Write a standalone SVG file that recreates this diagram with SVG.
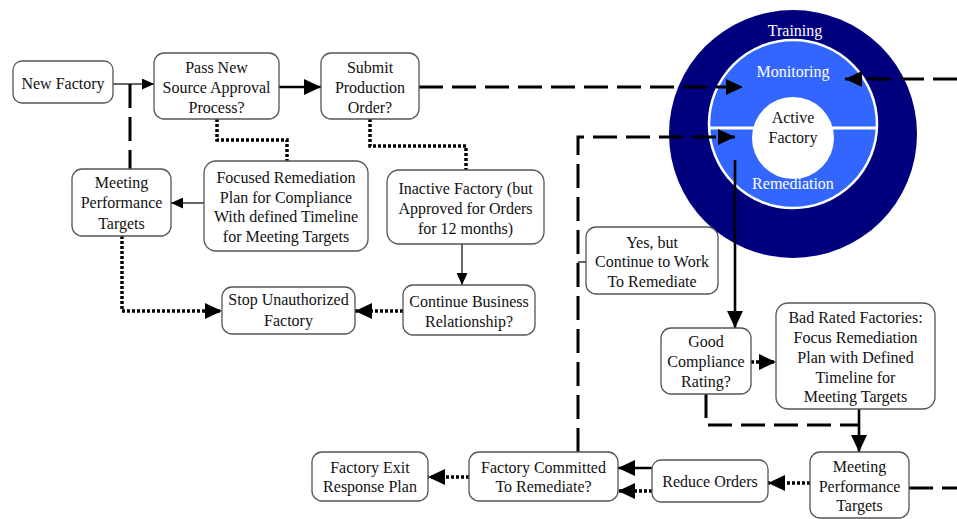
<svg xmlns="http://www.w3.org/2000/svg" width="957" height="519" viewBox="0 0 957 519">
<style>
.box{fill:#fff;stroke:#555;stroke-width:1.3}
.t{font-family:"Liberation Serif","Times New Roman",serif;font-size:16px;fill:#111;text-anchor:middle}
.w{fill:#fff}
.thin{fill:none;stroke:#333;stroke-width:1.5}
.thick{fill:none;stroke:#000;stroke-width:2.6}
.dash{fill:none;stroke:#000;stroke-width:3;stroke-dasharray:24 9}
.dot{fill:none;stroke:#000;stroke-width:3.5;stroke-dasharray:3 2}
</style>
<defs>
<marker id="ah" markerUnits="userSpaceOnUse" markerWidth="17" markerHeight="16" refX="17" refY="8" orient="auto"><path d="M0,0 L17,8 L0,16 z" fill="#000"/></marker>
<marker id="as" markerUnits="userSpaceOnUse" markerWidth="12" markerHeight="11" refX="12" refY="5.5" orient="auto"><path d="M0,0 L12,5.5 L0,11 z" fill="#000"/></marker>
</defs>

<g id="circle">
<circle cx="793" cy="134" r="124" fill="#00007f"/>
<circle cx="793" cy="124" r="84" fill="#3366ff" stroke="#fff" stroke-width="2.5"/>
<line x1="709" y1="128" x2="877" y2="128" stroke="#fff" stroke-width="3"/>
<circle cx="793" cy="138" r="41" fill="#fff"/>
<text class="t w" x="795" y="36" font-size="15">Training</text>
<text class="t w" x="793" y="77">Monitoring</text>
<text class="t" x="793" y="123">Active</text>
<text class="t" x="793" y="143">Factory</text>
<text class="t w" x="793" y="189">Remediation</text>
</g>

<g id="connectors">
<path class="thin" d="M113,84 H154" marker-end="url(#as)"/>
<path class="dash" d="M130,84 V169"/>
<path class="thick" stroke-width="3" d="M279,87 H321" marker-end="url(#ah)"/>
<path class="dash" d="M419,87 H743" marker-end="url(#ah)"/>
<path class="dash" d="M957,79 H845" marker-end="url(#ah)"/>
<path class="dot" d="M217,119 V140 H287 V161"/>
<path class="dot" d="M370,119 V146 H466 V170"/>
<path class="thin" d="M204,203 H171" marker-end="url(#as)"/>
<path class="dot" d="M122,236 V311 H222" marker-end="url(#ah)"/>
<path class="thin" d="M462,244 V285" marker-end="url(#as)"/>
<path class="dot" d="M403,311 H355" marker-end="url(#ah)"/>
<path class="dash" d="M578,452 V137 H735" marker-end="url(#ah)"/>
<path class="thin" stroke="#000" d="M578,262 H586"/>
<path class="thick" d="M735,160 V328" marker-end="url(#ah)"/>
<path class="dot" d="M751,362 H776" marker-end="url(#ah)"/>
<path class="dash" d="M706,394 V425 H858"/>
<path class="thick" d="M859,409 V452" marker-end="url(#ah)"/>
<path class="dot" d="M810,483 H768" marker-end="url(#ah)"/>
<path class="dash" d="M909,488 H957"/>
<path class="thick" d="M652,468 H618" marker-end="url(#ah)"/>
<path class="dot" d="M652,491 H618" marker-end="url(#ah)"/>
<path class="dot" d="M469,477 H428" marker-end="url(#ah)"/>
</g>

<g id="n-new"><rect class="box" x="13" y="61" width="100" height="42" rx="9"/><text class="t" x="63" y="89">New Factory</text></g>
<g id="n-pass"><rect class="box" x="154" y="53" width="125" height="66" rx="10"/><text class="t" x="216.5" y="73">Pass New</text><text class="t" x="216.5" y="93">Source Approval</text><text class="t" x="216.5" y="113">Process?</text></g>
<g id="n-submit"><rect class="box" x="321" y="53" width="98" height="66" rx="10"/><text class="t" x="370" y="73">Submit</text><text class="t" x="370" y="93">Production</text><text class="t" x="370" y="113">Order?</text></g>
<g id="n-mpt1"><rect class="box" x="72" y="169" width="99" height="67" rx="10"/><text class="t" x="121.5" y="188">Meeting</text><text class="t" x="121.5" y="208">Performance</text><text class="t" x="121.5" y="229">Targets</text></g>
<g id="n-focused"><rect class="box" x="204" y="161" width="164" height="90" rx="12"/><text class="t" x="286" y="183">Focused Remediation</text><text class="t" x="286" y="203">Plan for Compliance</text><text class="t" x="286" y="222">With defined Timeline</text><text class="t" x="286" y="242">for Meeting Targets</text></g>
<g id="n-inactive"><rect class="box" x="387" y="170" width="157" height="74" rx="12"/><text class="t" x="465.5" y="194">Inactive Factory (but</text><text class="t" x="465.5" y="214">Approved for Orders</text><text class="t" x="465.5" y="234">for 12 months)</text></g>
<g id="n-stop"><rect class="box" x="222" y="287" width="133" height="47" rx="10"/><text class="t" x="288.5" y="305">Stop Unauthorized</text><text class="t" x="288.5" y="326">Factory</text></g>
<g id="n-continue"><rect class="box" x="403" y="285" width="132" height="50" rx="10"/><text class="t" x="469" y="307">Continue Business</text><text class="t" x="469" y="327">Relationship?</text></g>
<g id="n-yes"><rect class="box" x="586" y="227" width="132" height="67" rx="10"/><text class="t" x="652" y="248">Yes, but</text><text class="t" x="652" y="267">Continue to Work</text><text class="t" x="652" y="287">To Remediate</text></g>
<g id="n-good"><rect class="box" x="661" y="328" width="90" height="66" rx="10"/><text class="t" x="706" y="347">Good</text><text class="t" x="706" y="367">Compliance</text><text class="t" x="706" y="387">Rating?</text></g>
<g id="n-bad"><rect class="box" x="776" y="303" width="159" height="106" rx="12"/><text class="t" x="855.5" y="323">Bad Rated Factories:</text><text class="t" x="855.5" y="343">Focus Remediation</text><text class="t" x="855.5" y="363">Plan with Defined</text><text class="t" x="855.5" y="383">Timeline for</text><text class="t" x="855.5" y="402">Meeting Targets</text></g>
<g id="n-mpt2"><rect class="box" x="810" y="452" width="99" height="66" rx="10"/><text class="t" x="859.5" y="472">Meeting</text><text class="t" x="859.5" y="492">Performance</text><text class="t" x="859.5" y="511">Targets</text></g>
<g id="n-reduce"><rect class="box" x="652" y="460" width="116" height="42" rx="9"/><text class="t" x="710" y="487">Reduce Orders</text></g>
<g id="n-committed"><rect class="box" x="469" y="452" width="149" height="49" rx="10"/><text class="t" x="543.5" y="473">Factory Committed</text><text class="t" x="543.5" y="492">To Remediate?</text></g>
<g id="n-exit"><rect class="box" x="312" y="452" width="116" height="49" rx="10"/><text class="t" x="370" y="473">Factory Exit</text><text class="t" x="370" y="492">Response Plan</text></g>
</svg>
